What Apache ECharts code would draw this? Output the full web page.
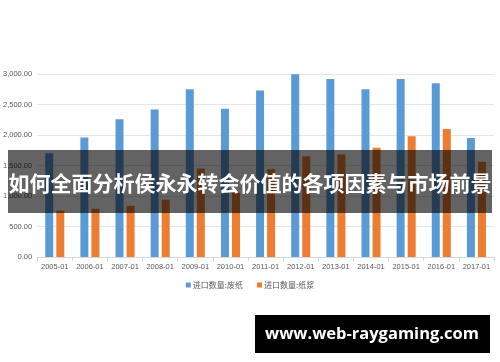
<!DOCTYPE html>
<html><head><meta charset="utf-8">
<script src="https://cdn.jsdelivr.net/npm/echarts@6/dist/echarts.min.js"></script>
<style>html,body{margin:0;padding:0;background:#fff}#c{width:500px;height:362px}</style>
</head><body><div id="c"></div>
<script>
var categories = ['2005-01','2006-01','2007-01','2008-01','2009-01','2010-01','2011-01','2012-01','2013-01','2014-01','2015-01','2016-01','2017-01'];
var wastePaper = [1700,1960,2260,2420,2750,2430,2730,2995,2920,2750,2920,2850,1950];
var pulp = [760,790,840,940,1450,1050,1440,1650,1680,1790,1980,2100,1560];
var seriesNames = ['进口数量:废纸','进口数量:纸浆'];
var bannerTitle = '如何全面分析侯永永转会价值的各项因素与市场前景';
var watermark = 'www.web-raygaming.com';

var chart = echarts.init(document.getElementById('c'), null, {renderer:'canvas'});
var labelFont = {color:'#595959', fontSize:7.5, fontFamily:'Liberation Sans, sans-serif'};
chart.setOption({
  animation:false,
  color:['#5b9bd5','#ed7d31'],
  grid:{left:32, right:6, top:74, height:183, containLabel:false},
  legend:{
    data:seriesNames, top:276, left:'center', itemWidth:5, itemHeight:5, itemGap:14,
    icon:'rect',
    textStyle:{color:'#595959', fontSize:8, fontFamily:'Noto Sans CJK SC, sans-serif', padding:[0,0,0,-3]}
  },
  xAxis:{
    type:'category', data:categories,
    axisLine:{lineStyle:{color:'#d9d9d9'}},
    axisTick:{show:true, length:4, lineStyle:{color:'#d9d9d9'}},
    axisLabel:Object.assign({margin:6, interval:0}, labelFont)
  },
  yAxis:{
    type:'value', min:0, max:3000, interval:500,
    axisLine:{show:false}, axisTick:{show:false},
    splitLine:{lineStyle:{color:'#e6e6e6'}},
    axisLabel:Object.assign({margin:5, formatter:function(v){return v.toLocaleString('en-US',{minimumFractionDigits:2,maximumFractionDigits:2});}}, labelFont)
  },
  series:[
    {name:seriesNames[0], type:'bar', data:wastePaper, barWidth:8, barGap:'38%'},
    {name:seriesNames[1], type:'bar', data:pulp, barWidth:8, barGap:'38%'}
  ],
  graphic:[
    {type:'rect', left:8, top:150, shape:{width:484, height:63}, style:{fill:'rgba(0,0,0,0.61)'}, z:100},
    {type:'text', x:250, y:183, style:{text:bannerTitle, fill:'#fff', font:'bold 21px "Noto Sans CJK SC", sans-serif', align:'center', verticalAlign:'middle'}, z:101},
    {type:'rect', left:255, top:315, shape:{width:235, height:38}, style:{fill:'#000'}, z:100},
    {type:'text', x:372, y:334, style:{text:watermark, fill:'#fff', font:'bold 16.5px "Open Sans", sans-serif', align:'center', verticalAlign:'middle'}, z:101}
  ]
});
</script></body></html>
